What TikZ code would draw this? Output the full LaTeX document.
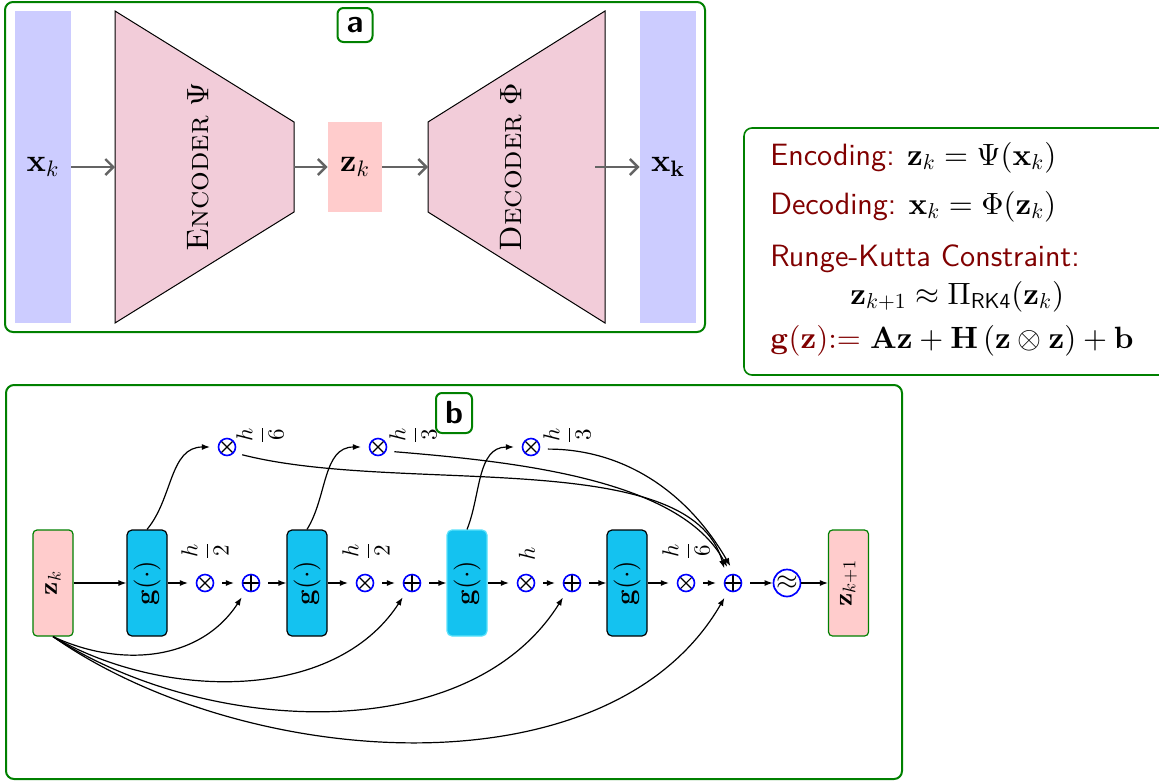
\documentclass[tikz,border=0pt]{standalone}
\usepackage{amsmath}
\DeclareFontShape{OT1}{cmr}{m}{n}{<->cmr10}{}
\DeclareFontShape{OT1}{cmr}{bx}{n}{<->cmbx10}{}
\DeclareFontShape{OML}{cmm}{m}{it}{<->cmmi10}{}
\DeclareFontShape{OMS}{cmsy}{m}{n}{<->cmsy10}{}
\DeclareFontShape{OMX}{cmex}{m}{n}{<->cmex10}{}
\DeclareFontShape{OT1}{cmss}{m}{n}{<->cmss10}{}
\usetikzlibrary{arrows.meta,calc}
\definecolor{frameg}{RGB}{0,128,0}
\definecolor{gblue}{RGB}{20,194,240}
\definecolor{gedge}{RGB}{90,225,250}
\definecolor{dred}{RGB}{128,0,0}
\definecolor{agray}{RGB}{100,100,100}
\begin{document}
\begin{tikzpicture}[x=0.5pt,y=0.5pt,
  panel/.style={draw=frameg, line width=1pt, rounded corners=4pt},
  tag/.style={draw=frameg, line width=1pt, rounded corners=3pt, fill=white,
    font=\fontsize{16}{18}\selectfont\sffamily\bfseries, inner sep=0pt,
    minimum width=17.5pt, minimum height=17pt},
  xbar/.style={fill=blue!20, minimum width=28pt, minimum height=156pt, inner sep=0pt,
    font=\fontsize{16}{19}\selectfont},
  coder/.style={fill=purple!20, draw=black, line width=0.5pt},
  codertext/.style={rotate=90, font=\fontsize{15.5}{18}\selectfont},
  zlat/.style={fill=red!20, minimum width=27pt, minimum height=45pt, inner sep=0pt,
    font=\fontsize{16}{19}\selectfont},
  aarrow/.style={draw=agray, line width=1.2pt, -{Straight Barb[length=4pt,width=8pt]}},
  boxtext/.style={anchor=base west, inner sep=0pt, font=\fontsize{15.4}{18}\selectfont},
  zbox/.style={draw=frameg, fill=red!20, line width=0.6pt, rounded corners=2pt,
    minimum width=20pt, minimum height=53pt, inner sep=0pt,
    font=\fontsize{13}{15}\selectfont},
  gbox/.style={draw=black, fill=gblue, line width=0.6pt, rounded corners=2.5pt,
    minimum width=20pt, minimum height=53pt, inner sep=0pt,
    font=\fontsize{13.5}{15}\selectfont},
  otim/.style={circle, draw=blue, line width=0.8pt, minimum size=8.5pt, inner sep=0pt,
    outer sep=4.3pt,
    path picture={\draw[black, line width=0.55pt]
      (path picture bounding box.south west) -- (path picture bounding box.north east)
      (path picture bounding box.north west) -- (path picture bounding box.south east);}},
  oplu/.style={circle, draw=blue, line width=0.8pt, minimum size=8.5pt, inner sep=0pt,
    outer sep=4.3pt,
    path picture={\draw[black, line width=0.55pt]
      (path picture bounding box.south) -- (path picture bounding box.north)
      (path picture bounding box.west) -- (path picture bounding box.east);}},
  apx/.style={circle, draw=blue, line width=0.85pt, minimum size=13.5pt, inner sep=0pt,
    font=\fontsize{14}{16}\selectfont},
  flab/.style={rotate=90, inner sep=0pt, font=\fontsize{11.5}{14}\selectfont},
  barrow/.style={line width=0.6pt, -{Latex[length=4pt,width=3pt]}}
]
\useasboundingbox (0,0) rectangle (1159,-782);

% ---------------- panel a ----------------
\draw[panel] (5,-2) rectangle (705,-332);
\node[xbar] (xin) at (43,-167) {$\mathbf{x}_k$};
\node[xbar] (xout) at (668,-167) {$\mathbf{x_k}$};
\draw[coder] (115,-11) -- (294,-122) -- (294,-212) -- (115,-323) -- cycle;
\coordinate (encL) at (115,-167);
\coordinate (encR) at (294,-167);
\node[codertext] (enct) at (198,-167) {\textsc{Encoder} $\Psi$};
\node[zlat] (za) at (355,-167) {$\mathbf{z}_k$};
\draw[coder] (428,-122) -- (605,-11) -- (605,-323) -- (428,-212) -- cycle;
\coordinate (decL) at (428,-167);
\coordinate (decR) at (595,-167);
\node[codertext] (dect) at (511,-167) {\textsc{Decoder} $\Phi$};
\node[tag] (ta) at (355,-25) {a};
\draw[aarrow] (xin.east) -- (encL);
\draw[aarrow] (encR) -- (za.west);
\draw[aarrow] (za.east) -- (decL);
\draw[aarrow] (decR) -- (xout.west);

% ---------------- equations box ----------------
\draw[panel, line width=0.8pt] (744,-128) rectangle (1180,-375);
\node[boxtext] (e1) at (770,-165) {\textcolor{dred}{\sffamily Encoding:} $\mathbf{z}_k = \Psi(\mathbf{x}_k)$};
\node[boxtext] (e2) at (770,-214) {\textcolor{dred}{\sffamily Decoding:} $\mathbf{x}_k = \Phi(\mathbf{z}_k)$};
\node[boxtext] (e3) at (770,-266) {\textcolor{dred}{\sffamily Runge-Kutta Constraint:}};
\node[boxtext] (e4) at (850,-304) {$\mathbf{z}_{k+1} \approx \Pi_{\mathsf{RK4}}(\mathbf{z}_k)$};
\node[boxtext] (e5) at (770,-348) {$\textcolor{dred}{\mathbf{g}(\mathbf{z}){:=}}\ \mathbf{Az}+\mathbf{H}\,(\mathbf{z}\otimes\mathbf{z})+\mathbf{b}$};

% ---------------- panel b ----------------
\draw[panel] (6,-385) rectangle (902,-779);
\node[tag, minimum width=18pt, minimum height=20pt] (tb) at (454,-413) {b};

\node[zbox] (zk) at (53,-583) {\rotatebox{90}{$\mathbf{z}_k$}};
\node[gbox] (g1) at (147,-583) {\rotatebox{90}{$\mathbf{g}(\cdot)$}};
\node[otim] (m1) at (205,-583) {};
\node[oplu] (p1) at (251,-583) {};
\node[gbox] (g2) at (307,-583) {\rotatebox{90}{$\mathbf{g}(\cdot)$}};
\node[otim] (m2) at (365,-583) {};
\node[oplu] (p2) at (412,-583) {};
\node[gbox, draw=gedge] (g3) at (467,-583) {\rotatebox{90}{$\mathbf{g}(\cdot)$}};
\node[otim] (m3) at (526,-583) {};
\node[oplu] (p3) at (572,-583) {};
\node[gbox] (g4) at (627,-583) {\rotatebox{90}{$\mathbf{g}(\cdot)$}};
\node[otim] (m4) at (686,-583) {};
\node[oplu] (p4) at (733,-583) {};
\node[apx] (ap) at (787,-583) {$\approx$};
\node[zbox] (zk1) at (848.5,-583) {\rotatebox{90}{$\mathbf{z}_{k+1}$}};

\node[otim] (t1) at (227,-447) {};
\node[otim] (t2) at (378,-447) {};
\node[otim] (t3) at (531,-447) {};

\node[flab] (l1) at (205,-551) {$\dfrac{h}{2}$};
\node[flab] (l2) at (366,-551) {$\dfrac{h}{2}$};
\node[flab] (l3) at (527,-554) {$h$};
\node[flab] (l4) at (686,-551) {$\dfrac{h}{6}$};
\node[flab] (lt1) at (260,-435) {$\dfrac{h}{6}$};
\node[flab] (lt2) at (413,-435) {$\dfrac{h}{3}$};
\node[flab] (lt3) at (567,-435) {$\dfrac{h}{3}$};

\draw[barrow] (zk) -- (g1);
\draw[barrow] (g1) -- (m1);
\draw[barrow] (m1) -- (p1);
\draw[barrow] (p1) -- (g2);
\draw[barrow] (g2) -- (m2);
\draw[barrow] (m2) -- (p2);
\draw[barrow] (p2) -- (g3);
\draw[barrow] (g3) -- (m3);
\draw[barrow] (m3) -- (p3);
\draw[barrow] (p3) -- (g4);
\draw[barrow] (g4) -- (m4);
\draw[barrow] (m4) -- (p4);
\draw[barrow] (p4) -- (ap);
\draw[barrow] (ap) -- (zk1);

\draw[barrow] (g1.north) to[out=50,in=180] (t1);
\draw[barrow] (g2.north) to[out=58,in=180] (t2);
\draw[barrow] (g3.north) to[out=68,in=180] (t3);

\draw[barrow] (t1.-27) .. controls (400,-495) and (690,-445) .. (p4.121);
\draw[barrow] (t2.-16) .. controls (520,-462) and (680,-480) .. (p4.110);
\draw[barrow] (t3.-7) .. controls (620,-449) and (685,-488) .. (p4.99);

\draw[barrow] (zk.south) to[out=-25,in=-123,looseness=1.0] (p1);
\draw[barrow] (zk.south) to[out=-30,in=-123,looseness=0.92] (p2);
\draw[barrow] (zk.south) to[out=-33,in=-122,looseness=0.9] (p3);
\draw[barrow] (zk.south) to[out=-35,in=-120,looseness=0.88] (p4);
\end{tikzpicture}
\end{document}
